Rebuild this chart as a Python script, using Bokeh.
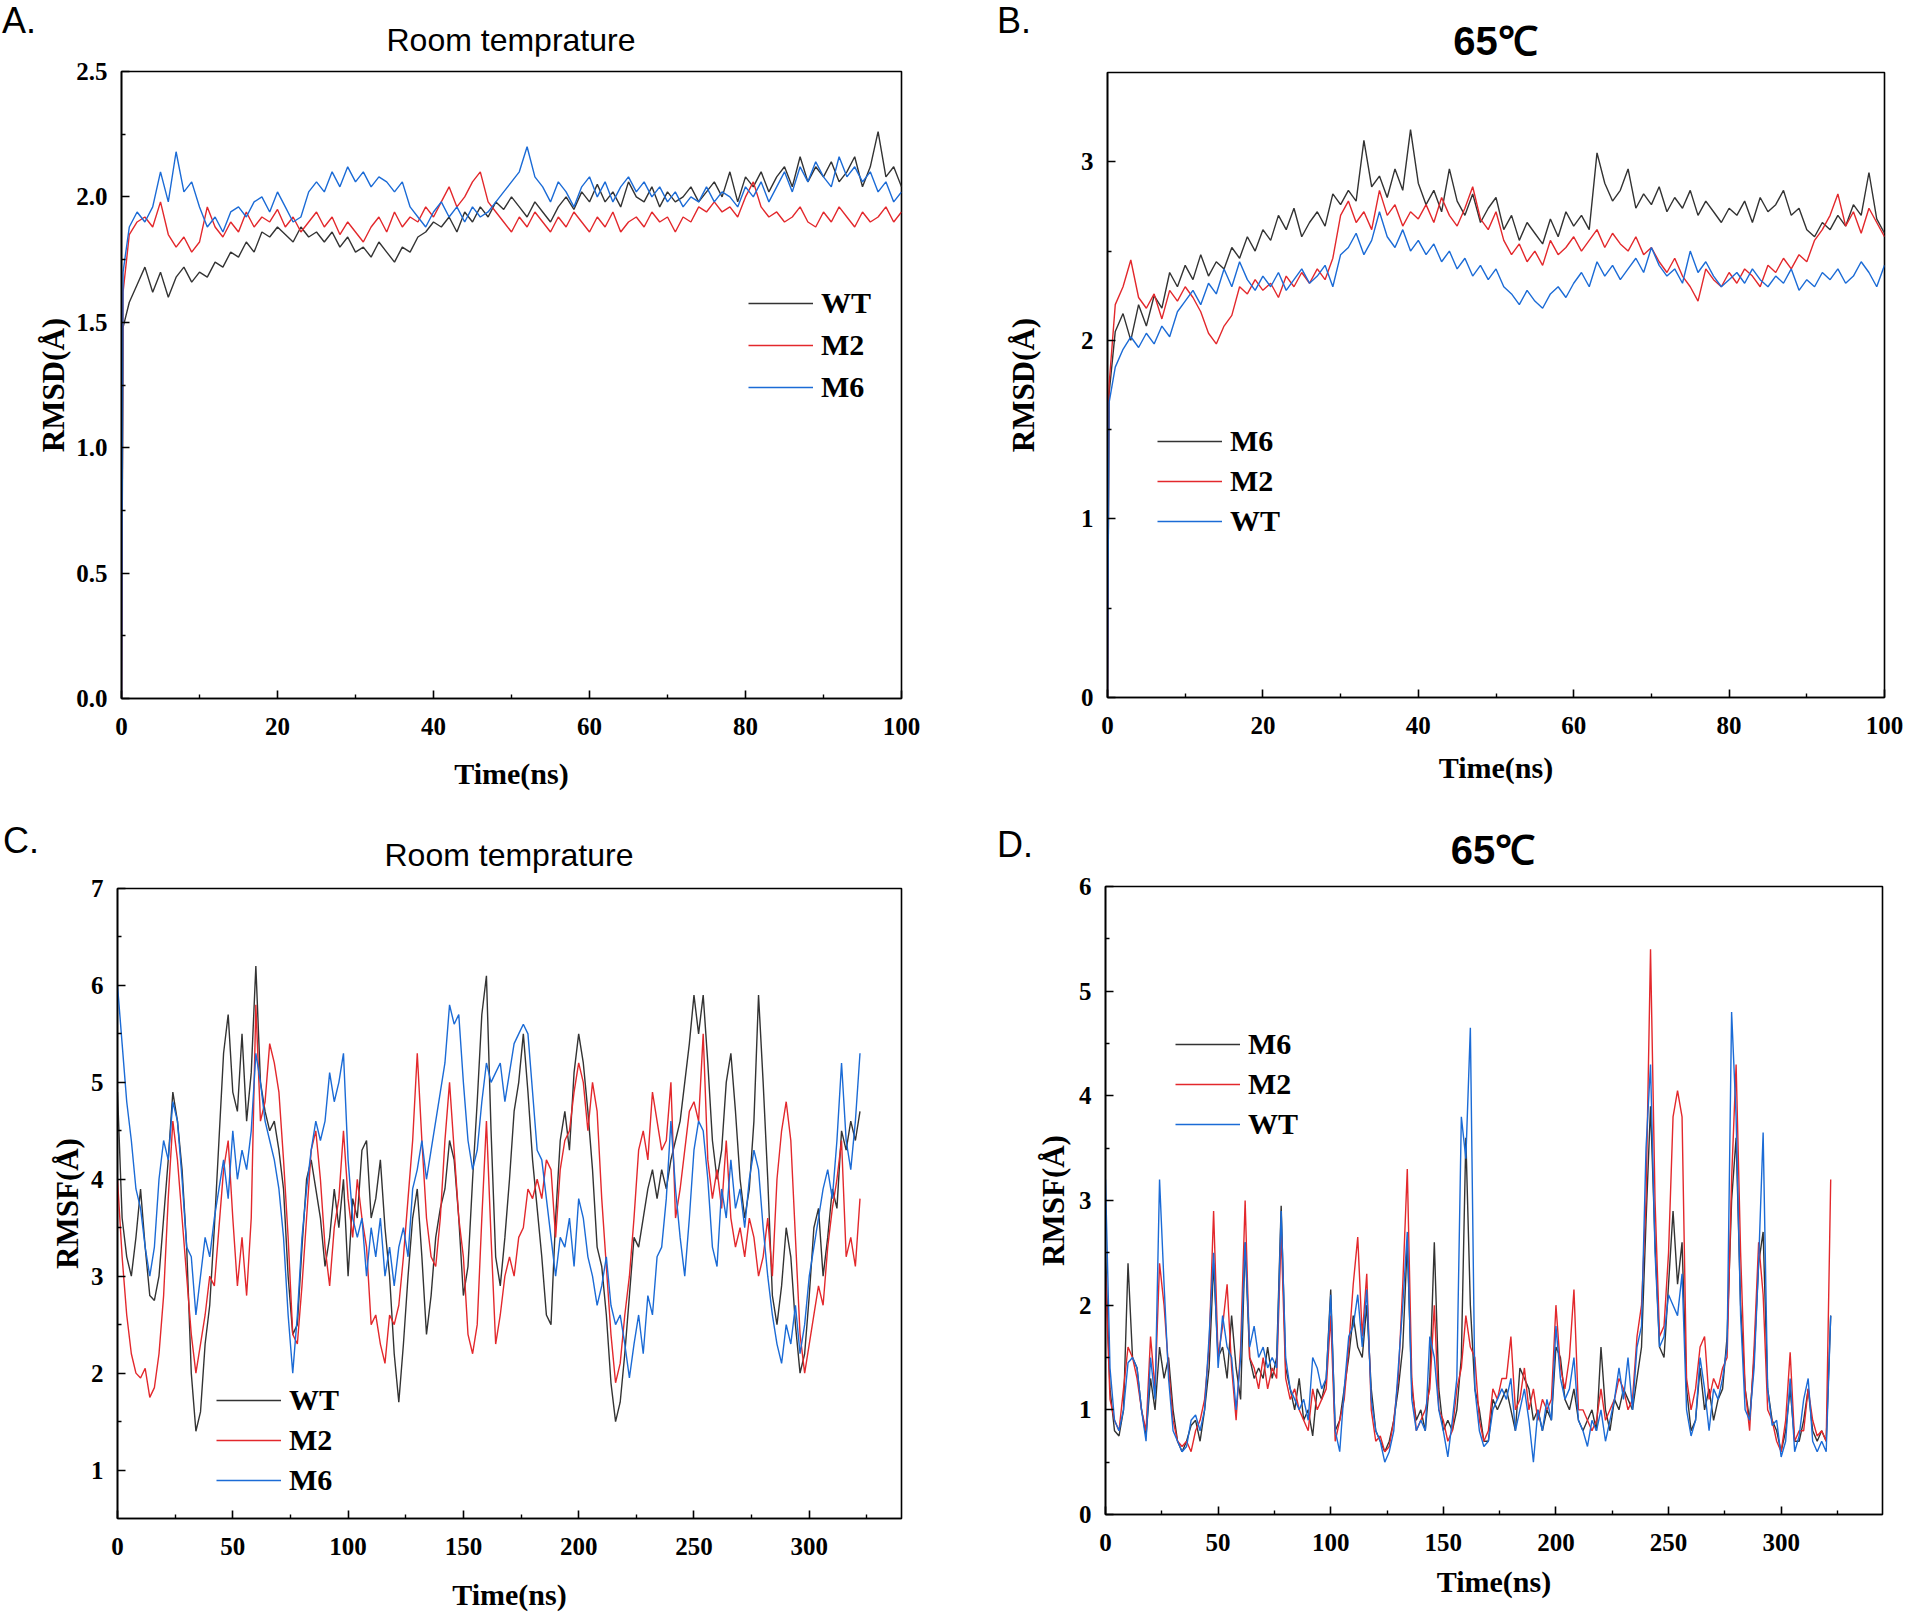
from bokeh.plotting import figure
from bokeh.models import Range1d, FixedTicker, Legend, LegendItem, Div
from bokeh.layouts import column, row
from bokeh.embed import file_html
from bokeh.resources import INLINE

# ---------------- data ----------------
# Panel A: RMSD at room temperature (time in ns: 0, 0.2, 1..100)
rmsd_rt_wt = [0.0, 1.48,
    1.58, 1.65, 1.72, 1.62, 1.70, 1.60, 1.68, 1.72, 1.66, 1.70,
    1.68, 1.74, 1.72, 1.78, 1.76, 1.82, 1.78, 1.86, 1.84, 1.88,
    1.85, 1.82, 1.88, 1.84, 1.86, 1.82, 1.86, 1.80, 1.84, 1.78,
    1.80, 1.76, 1.82, 1.78, 1.74, 1.80, 1.78, 1.84, 1.86, 1.90,
    1.88, 1.92, 1.86, 1.94, 1.90, 1.96, 1.92, 1.98, 1.95, 2.00,
    1.96, 1.92, 1.98, 1.94, 1.90, 1.96, 2.00, 1.95, 2.02, 1.98,
    2.05, 1.98, 2.02, 1.96, 2.06, 2.00, 1.98, 2.04, 1.96, 2.02,
    1.98, 2.00, 2.04, 1.98, 2.02, 2.06, 2.00, 2.10, 1.98, 2.08,
    2.04, 2.10, 2.02, 2.08, 2.12, 2.04, 2.16, 2.06, 2.12, 2.08,
    2.14, 2.06, 2.10, 2.16, 2.04, 2.12, 2.26, 2.08, 2.12, 2.04]
rmsd_rt_m2 = [0.0, 1.62,
    1.85, 1.90, 1.92, 1.88, 1.98, 1.85, 1.80, 1.84, 1.78, 1.82,
    1.96, 1.88, 1.84, 1.90, 1.86, 1.94, 1.88, 1.92, 1.90, 1.95,
    1.88, 1.92, 1.86, 1.90, 1.94, 1.88, 1.92, 1.85, 1.90, 1.86,
    1.82, 1.88, 1.92, 1.86, 1.94, 1.88, 1.92, 1.90, 1.96, 1.92,
    1.98, 2.04, 1.96, 2.00, 2.06, 2.10, 1.98, 1.94, 1.90, 1.86,
    1.92, 1.88, 1.94, 1.90, 1.86, 1.92, 1.88, 1.94, 1.90, 1.86,
    1.92, 1.88, 1.94, 1.86, 1.90, 1.92, 1.88, 1.94, 1.90, 1.92,
    1.86, 1.92, 1.90, 1.96, 1.94, 1.98, 1.94, 1.96, 1.92, 2.00,
    2.06, 1.96, 1.92, 1.94, 1.90, 1.92, 1.96, 1.90, 1.88, 1.94,
    1.90, 1.96, 1.92, 1.88, 1.94, 1.90, 1.92, 1.96, 1.90, 1.94]
rmsd_rt_m6 = [0.0, 1.70,
    1.88, 1.94, 1.90, 1.96, 2.10, 1.98, 2.18, 2.02, 2.06, 1.96,
    1.88, 1.92, 1.86, 1.94, 1.96, 1.92, 1.98, 2.00, 1.94, 2.02,
    1.96, 1.90, 1.92, 2.02, 2.06, 2.02, 2.10, 2.04, 2.12, 2.06,
    2.10, 2.04, 2.08, 2.06, 2.02, 2.06, 1.96, 1.92, 1.88, 1.94,
    1.98, 1.92, 1.96, 1.90, 1.96, 1.92, 1.94, 1.98, 2.02, 2.06,
    2.10, 2.20, 2.08, 2.04, 1.98, 2.06, 2.02, 1.96, 2.04, 2.08,
    2.00, 2.06, 1.98, 2.04, 2.08, 2.02, 2.06, 2.00, 2.04, 1.98,
    2.02, 1.96, 2.00, 1.98, 2.04, 1.98, 2.02, 2.00, 1.96, 2.04,
    2.00, 2.06, 1.98, 2.04, 2.10, 2.02, 2.12, 2.06, 2.14, 2.08,
    2.04, 2.16, 2.08, 2.12, 2.06, 2.10, 2.02, 2.06, 1.98, 2.02]

# Panel B: RMSD at 65 C
rmsd_65_m6 = [0.0, 1.70,
    2.05, 2.15, 2.00, 2.20, 2.08, 2.25, 2.18, 2.38, 2.30, 2.42,
    2.34, 2.48, 2.36, 2.44, 2.40, 2.52, 2.46, 2.58, 2.50, 2.62,
    2.56, 2.70, 2.62, 2.74, 2.58, 2.66, 2.72, 2.64, 2.82, 2.76,
    2.84, 2.78, 3.12, 2.86, 2.92, 2.80, 2.96, 2.84, 3.18, 2.88,
    2.76, 2.84, 2.72, 2.96, 2.78, 2.70, 2.82, 2.66, 2.74, 2.80,
    2.62, 2.70, 2.56, 2.66, 2.60, 2.54, 2.68, 2.58, 2.72, 2.64,
    2.70, 2.62, 3.05, 2.88, 2.78, 2.84, 2.96, 2.74, 2.82, 2.76,
    2.86, 2.72, 2.80, 2.74, 2.84, 2.70, 2.78, 2.72, 2.66, 2.74,
    2.70, 2.78, 2.66, 2.80, 2.72, 2.76, 2.84, 2.70, 2.74, 2.62,
    2.58, 2.66, 2.62, 2.70, 2.64, 2.76, 2.70, 2.94, 2.68, 2.60]
rmsd_65_m2 = [0.0, 1.75,
    2.20, 2.30, 2.45, 2.24, 2.18, 2.26, 2.12, 2.28, 2.22, 2.30,
    2.24, 2.16, 2.04, 1.98, 2.08, 2.14, 2.30, 2.26, 2.34, 2.28,
    2.32, 2.24, 2.36, 2.30, 2.38, 2.32, 2.40, 2.34, 2.46, 2.70,
    2.78, 2.66, 2.72, 2.62, 2.84, 2.70, 2.76, 2.64, 2.72, 2.68,
    2.76, 2.66, 2.80, 2.70, 2.64, 2.74, 2.86, 2.68, 2.62, 2.72,
    2.56, 2.48, 2.54, 2.44, 2.50, 2.42, 2.56, 2.48, 2.52, 2.58,
    2.50, 2.56, 2.62, 2.52, 2.60, 2.54, 2.50, 2.58, 2.48, 2.52,
    2.44, 2.38, 2.46, 2.36, 2.30, 2.22, 2.40, 2.34, 2.30, 2.38,
    2.32, 2.40, 2.36, 2.30, 2.42, 2.38, 2.46, 2.40, 2.48, 2.44,
    2.56, 2.62, 2.70, 2.82, 2.64, 2.72, 2.60, 2.74, 2.66, 2.58]
rmsd_65_wt = [0.0, 1.65,
    1.85, 1.95, 2.02, 1.96, 2.04, 1.98, 2.08, 2.02, 2.16, 2.22,
    2.28, 2.20, 2.32, 2.26, 2.40, 2.30, 2.44, 2.34, 2.28, 2.36,
    2.30, 2.38, 2.28, 2.34, 2.40, 2.32, 2.36, 2.42, 2.30, 2.48,
    2.52, 2.60, 2.48, 2.56, 2.72, 2.58, 2.52, 2.62, 2.50, 2.56,
    2.48, 2.54, 2.44, 2.50, 2.40, 2.46, 2.36, 2.42, 2.34, 2.40,
    2.30, 2.26, 2.20, 2.28, 2.22, 2.18, 2.26, 2.30, 2.24, 2.32,
    2.38, 2.30, 2.44, 2.36, 2.42, 2.34, 2.40, 2.46, 2.38, 2.52,
    2.42, 2.36, 2.40, 2.32, 2.50, 2.38, 2.44, 2.36, 2.30, 2.34,
    2.38, 2.32, 2.40, 2.34, 2.30, 2.36, 2.32, 2.40, 2.28, 2.34,
    2.30, 2.38, 2.34, 2.40, 2.32, 2.36, 2.44, 2.38, 2.30, 2.42]

# Panel C: RMSF at room temperature (every 2nd residue, 0..322)
rmsf_rt_wt = [
    4.9, 3.6, 3.2, 3.0, 3.4, 3.9, 3.3, 2.8, 2.75, 3.0,
    3.6, 4.2, 4.9, 4.6, 4.1, 3.3, 2.0, 1.4, 1.6, 2.3,
    2.7, 3.5, 4.4, 5.3, 5.7, 4.9, 4.7, 5.5, 4.6, 5.1,
    6.2, 5.0, 4.7, 4.5, 4.6, 4.3, 3.9, 3.0, 2.4, 2.5,
    3.3, 4.0, 4.2, 3.9, 3.6, 3.1, 3.4, 3.9, 3.5, 4.0,
    3.0, 3.8, 3.6, 4.3, 4.4, 3.6, 3.8, 4.2, 3.5, 3.0,
    2.2, 1.7, 2.3, 3.0, 3.6, 3.9, 3.2, 2.4, 2.8, 3.4,
    3.7, 3.9, 4.4, 4.2, 3.6, 2.8, 3.1, 4.0, 4.8, 5.7,
    6.1, 4.5, 3.2, 2.9, 3.4, 4.0, 4.7, 5.0, 5.5, 4.9,
    4.2, 3.7, 3.2, 2.6, 2.5, 3.6, 4.4, 4.7, 4.3, 5.1,
    5.5, 5.2, 4.7, 4.1, 3.3, 3.1, 2.6, 1.9, 1.5, 1.7,
    2.2, 2.8, 3.4, 3.3, 3.6, 3.9, 4.1, 3.8, 4.1, 3.9,
    4.2, 4.4, 4.6, 5.0, 5.4, 5.9, 5.5, 5.9, 5.2, 4.4,
    4.0, 4.3, 5.0, 5.3, 4.7, 4.0, 3.6, 3.9, 4.6, 5.9,
    5.0, 4.0, 2.8, 2.5, 2.9, 3.5, 3.2, 2.5, 2.0, 2.2,
    2.8, 3.5, 3.7, 3.0, 3.4, 3.9, 3.7, 4.5, 4.3, 4.6,
    4.4, 4.7]
rmsf_rt_m2 = [
    4.0, 3.2, 2.6, 2.2, 2.0, 1.95, 2.05, 1.75, 1.85, 2.2,
    2.8, 3.8, 4.6, 4.2, 3.6, 3.0, 2.4, 2.0, 2.3, 2.6,
    3.0, 2.9, 3.5, 4.1, 4.4, 3.6, 2.9, 3.4, 2.8, 3.6,
    5.8, 4.6, 4.8, 5.4, 5.2, 4.9, 4.2, 3.4, 2.4, 2.3,
    2.9, 3.6, 4.3, 4.5, 4.0, 3.3, 2.9, 3.5, 3.8, 4.5,
    3.8, 3.4, 4.0, 3.6, 3.3, 2.5, 2.6, 2.3, 2.1, 2.6,
    2.5, 2.7, 3.2, 3.8, 4.4, 5.3, 4.4, 3.6, 3.2, 3.1,
    3.6, 4.4, 5.0, 4.3, 3.6, 3.2, 2.4, 2.2, 2.5, 3.6,
    4.6, 3.4, 2.3, 2.6, 3.0, 3.2, 3.0, 3.4, 3.5, 3.9,
    3.8, 4.0, 3.8, 4.2, 4.1, 3.4, 4.1, 4.4, 4.5, 4.9,
    5.2, 5.0, 4.5, 5.0, 4.7, 3.8, 3.1, 2.4, 1.9, 2.1,
    2.6, 3.0, 3.6, 4.3, 4.5, 4.2, 4.9, 4.6, 4.3, 4.4,
    5.0, 3.6, 3.9, 4.3, 4.7, 4.8, 4.6, 5.5, 4.2, 3.8,
    4.1, 3.7, 4.4, 3.6, 3.3, 3.5, 3.2, 3.6, 3.4, 3.0,
    3.2, 3.6, 3.0, 4.0, 4.5, 4.8, 4.4, 3.4, 2.4, 2.0,
    2.3, 2.6, 2.9, 2.7, 3.3, 3.7, 4.0, 4.4, 3.2, 3.4,
    3.1, 3.8]
rmsf_rt_m6 = [
    6.0, 5.4, 4.8, 4.4, 3.9, 3.7, 3.3, 3.0, 3.3, 4.0,
    4.4, 4.2, 4.8, 4.6, 4.0, 3.3, 3.2, 2.6, 3.0, 3.4,
    3.2, 3.6, 3.9, 4.2, 3.8, 4.5, 4.0, 4.3, 4.1, 4.5,
    5.3, 5.0, 4.6, 4.4, 4.2, 3.9, 3.4, 2.6, 2.0, 2.6,
    3.4, 3.9, 4.3, 4.6, 4.4, 4.6, 5.1, 4.8, 5.0, 5.3,
    4.2, 3.6, 3.4, 3.6, 3.0, 3.5, 3.2, 3.6, 3.0, 3.3,
    2.9, 3.3, 3.5, 3.2, 3.9, 4.1, 4.4, 4.0, 4.3, 4.6,
    4.9, 5.2, 5.8, 5.6, 5.7, 5.0, 4.4, 4.1, 4.3, 4.8,
    5.2, 5.0, 5.1, 5.2, 4.8, 5.1, 5.4, 5.5, 5.6, 5.5,
    4.9, 4.3, 4.2, 3.8, 3.4, 3.0, 3.4, 3.3, 3.6, 3.1,
    3.8, 3.6, 3.2, 3.0, 2.7, 2.9, 3.2, 2.7, 2.5, 2.6,
    2.3, 1.95, 2.3, 2.6, 2.2, 2.8, 2.6, 3.2, 3.3, 3.8,
    4.6, 3.9, 3.4, 3.0, 3.6, 4.3, 4.6, 4.5, 4.0, 3.3,
    3.1, 3.9, 3.6, 4.2, 3.7, 3.9, 3.5, 4.0, 4.3, 4.1,
    3.5, 3.0, 2.6, 2.3, 2.1, 2.5, 2.3, 2.7, 2.2, 2.5,
    3.0, 3.3, 3.6, 3.9, 4.1, 3.8, 4.4, 5.2, 4.4, 4.1,
    4.6, 5.3]

# Panel D: RMSF at 65 C (every 2nd residue, 0..322)
rmsf_65_m6 = [
    2.5, 1.2, 0.8, 0.75, 1.0, 2.4, 1.5, 1.4, 1.0, 0.75,
    1.3, 1.0, 1.6, 1.3, 1.5, 1.0, 0.7, 0.6, 0.7, 0.85,
    0.9, 0.7, 1.0, 1.4, 2.4, 1.5, 1.6, 1.3, 1.9, 1.4,
    1.1, 2.6, 1.5, 1.3, 1.4, 1.3, 1.6, 1.3, 1.5, 2.95,
    1.4, 1.2, 1.0, 1.3, 0.9, 1.0, 0.75, 1.2, 1.1, 1.3,
    2.15, 0.8, 0.9, 1.2, 1.5, 1.9, 1.6, 1.5, 2.0, 1.2,
    0.8, 0.7, 0.6, 0.7, 0.9, 1.2, 1.6, 2.6, 1.2, 0.9,
    1.0, 0.8, 1.3, 2.6, 1.2, 0.8, 0.9, 0.8, 1.0, 1.5,
    3.6, 2.0, 1.2, 1.0, 0.7, 0.7, 1.1, 1.0, 1.1, 1.2,
    1.0, 0.8, 1.4, 1.3, 1.2, 0.9, 1.0, 0.8, 1.0, 0.9,
    1.6, 1.5, 1.1, 1.0, 1.2, 0.9, 0.8, 0.9, 1.0, 0.8,
    1.6, 1.0, 0.8, 1.1, 1.0, 1.2, 1.1, 1.0, 1.3, 1.6,
    2.8, 3.9, 2.6, 1.6, 1.5, 2.2, 2.9, 2.2, 2.6, 1.2,
    0.8, 0.9, 1.4, 1.0, 1.2, 0.9, 1.1, 1.2, 1.7, 3.0,
    3.6, 2.0, 1.2, 0.9, 1.5, 2.4, 2.7, 1.2, 0.9, 0.8,
    0.6, 0.8, 1.2, 0.7, 0.7, 0.9, 1.2, 0.8, 0.7, 0.8,
    0.7, 1.9]
rmsf_65_m2 = [
    2.3, 1.1, 0.9, 0.8, 1.2, 1.6, 1.5, 1.3, 1.0, 0.8,
    1.7, 1.2, 2.4, 2.0, 1.4, 0.9, 0.7, 0.65, 0.7, 0.6,
    0.8, 0.9, 1.1, 1.6, 2.9, 1.5, 1.8, 2.2, 1.4, 0.9,
    1.6, 3.0, 1.5, 1.4, 1.2, 1.5, 1.2, 1.4, 1.3, 2.7,
    1.3, 1.1, 1.2, 1.0, 0.9, 0.8, 1.2, 1.0, 1.1, 1.2,
    1.9, 0.7, 0.9, 1.1, 1.6, 2.2, 2.65, 1.7, 2.3, 1.0,
    0.7, 0.75, 0.6, 0.65, 0.9, 1.3, 2.2, 3.3, 1.3, 0.8,
    0.9, 1.0, 1.2, 2.0, 1.0, 0.9, 0.7, 0.8, 1.2, 1.4,
    1.9, 1.6, 1.5, 0.9, 0.7, 0.8, 1.2, 1.1, 1.3, 1.3,
    1.7, 1.0, 1.1, 1.4, 1.0, 1.2, 0.9, 1.1, 1.0, 1.1,
    2.0, 1.4, 1.2, 1.5, 2.15, 1.0, 1.0, 0.9, 0.8, 0.9,
    1.2, 0.9, 1.0, 1.1, 1.3, 1.2, 1.0, 1.1, 1.7, 2.0,
    3.0, 5.4, 3.0, 1.7, 1.8, 2.5, 3.8, 4.05, 3.8, 1.3,
    1.0, 1.2, 1.6, 1.7, 1.1, 1.3, 1.2, 1.4, 1.5, 3.2,
    4.3, 2.5, 1.2, 0.8, 1.6, 2.6, 2.1, 1.0, 0.9, 0.7,
    0.6, 0.9, 1.55, 0.7, 0.8, 0.8, 1.2, 0.9, 0.75, 0.8,
    0.7, 3.2]
rmsf_65_wt = [
    3.2, 1.4, 0.9, 0.8, 1.0, 1.45, 1.5, 1.4, 1.0, 0.7,
    1.5, 1.1, 3.2, 2.2, 1.3, 0.8, 0.7, 0.6, 0.65, 0.9,
    0.95, 0.8, 1.0, 1.7, 2.5, 1.4, 1.9, 1.6, 1.5, 1.0,
    1.5, 2.6, 1.6, 1.8, 1.5, 1.6, 1.4, 1.5, 1.4, 2.9,
    1.5, 1.2, 1.1, 1.0, 1.1, 0.9, 1.5, 1.4, 1.2, 1.3,
    2.1, 0.8, 0.6, 1.2, 1.7, 1.8, 2.1, 1.6, 2.15, 1.1,
    0.8, 0.7, 0.5, 0.6, 0.8, 1.4, 2.0, 2.7, 1.1, 0.8,
    0.9, 0.8, 1.7, 1.5, 1.0, 0.8, 0.55, 0.9, 1.3, 3.8,
    3.4, 4.65, 1.2, 0.8, 0.65, 0.7, 1.0, 1.1, 1.2, 1.1,
    1.3, 0.8, 1.0, 1.2, 0.9, 0.5, 1.0, 0.8, 1.1, 0.9,
    1.8, 1.3, 1.1, 1.2, 1.5, 0.9, 0.8, 0.65, 0.9, 0.8,
    1.0, 0.7, 0.9, 1.1, 1.4, 1.1, 1.5, 1.0, 1.6, 1.8,
    3.5, 4.3, 2.5, 1.6, 1.7, 2.1, 2.0, 1.9, 2.3, 1.0,
    0.75, 0.9, 1.5, 1.2, 0.8, 1.2, 1.1, 1.3, 1.6, 4.8,
    3.8, 1.9, 1.0, 0.9, 1.4, 2.4, 3.65, 1.2, 0.85, 0.9,
    0.55, 0.7, 1.3, 0.6, 0.75, 1.1, 1.3, 0.7, 0.6, 0.7,
    0.6, 1.9]

# axis ticks
rmsd_rt_yticks = [0.0, 0.5, 1.0, 1.5, 2.0, 2.5]
rmsd_65_yticks = [0, 1, 2, 3]
rmsd_xticks = [0, 20, 40, 60, 80, 100]
rmsf_rt_yticks = [1, 2, 3, 4, 5, 6, 7]
rmsf_65_yticks = [0, 1, 2, 3, 4, 5, 6]
rmsf_xticks = [0, 50, 100, 150, 200, 250, 300]

BLACK = "#333333"
RED = "#e3282c"
BLUE = "#1b6bd6"
W = 953


def rmsd_time(vals):
    return [0.0, 0.2] + [float(i) for i in range(1, len(vals) - 1)]


def residue_index(vals):
    return [2 * i for i in range(len(vals))]


def header(h, letter, lx, ltop, title, tcx, ttop, tsize, tweight):
    base = "position:absolute;font-family:'Liberation Sans',Arial,sans-serif;line-height:1;color:#000;white-space:nowrap;"
    html = (f'<div style="position:relative;width:{W}px;height:{h}px;overflow:visible;">'
            f'<span style="{base}left:{lx}px;top:{ltop}px;font-size:36px;">{letter}</span>'
            f'<span style="{base}left:{tcx}px;top:{ttop}px;transform:translateX(-50%);'
            f'font-size:{tsize}px;font-weight:{tweight};">{title}</span></div>')
    return Div(text=html, width=W, height=h, margin=(0, 0, 0, 0))


def style_axes(p, xticks, xminor, yticks, yminor, ylabels, ylabel, ylab_standoff, xlab_standoff):
    p.xgrid.visible = False
    p.ygrid.visible = False
    p.outline_line_color = "black"
    p.outline_line_width = 1.6
    p.xaxis.ticker = FixedTicker(ticks=xticks, minor_ticks=xminor)
    p.yaxis.ticker = FixedTicker(ticks=yticks, minor_ticks=yminor)
    p.yaxis.major_label_overrides = {t: s for t, s in zip(yticks, ylabels)}
    p.xaxis.axis_label = "Time(ns)"
    p.yaxis.axis_label = ylabel
    for ax in (p.xaxis[0], p.yaxis[0]):
        ax.axis_line_width = 1.6
        ax.major_tick_in = 8
        ax.major_tick_out = 0
        ax.minor_tick_in = 4
        ax.minor_tick_out = 0
        ax.major_tick_line_width = 1.6
        ax.minor_tick_line_width = 1.4
        ax.major_label_text_font = "Liberation Serif"
        ax.major_label_text_font_style = "bold"
        ax.major_label_text_font_size = "25px"
        ax.major_label_text_color = "black"
        ax.axis_label_text_font = "Liberation Serif"
        ax.axis_label_text_font_style = "bold"
        ax.axis_label_text_color = "black"
    p.xaxis.major_label_standoff = 19
    p.yaxis.major_label_standoff = 14
    p.xaxis.axis_label_text_font_size = "30px"
    p.yaxis.axis_label_text_font_size = "31px"
    p.xaxis.axis_label_standoff = xlab_standoff
    p.yaxis.axis_label_standoff = ylab_standoff


def make_panel(xs, series, names, colors, xr, yr, height, borders, axes_args,
               legend_xy, row_h):
    bl, br, bt, bb = borders
    p = figure(width=W, height=height, x_range=Range1d(*xr), y_range=Range1d(*yr),
               output_backend="svg", toolbar_location=None,
               min_border_left=bl, min_border_right=br,
               min_border_top=bt, min_border_bottom=bb, margin=(0, 0, 0, 0))
    p.background_fill_color = "white"
    p.border_fill_color = "white"
    style_axes(p, *axes_args)
    items = []
    for x, y, n, c in zip(xs, series, names, colors):
        r = p.line(x, y, line_color=c, line_width=1.4)
        items.append(LegendItem(label=n, renderers=[r]))
    leg = Legend(items=items, location=legend_xy, padding=0, margin=0, spacing=0,
                 glyph_width=65, glyph_height=row_h, label_height=row_h,
                 label_standoff=8, label_text_font="Liberation Serif",
                 label_text_font_style="bold", label_text_font_size="30px",
                 label_text_color="black",
                 border_line_alpha=0, background_fill_alpha=0)
    p.add_layout(leg)
    return p


pA = make_panel(
    [rmsd_time(rmsd_rt_wt), rmsd_time(rmsd_rt_m2), rmsd_time(rmsd_rt_m6)],
    [rmsd_rt_wt, rmsd_rt_m2, rmsd_rt_m6], ["WT", "M2", "M6"], [BLACK, RED, BLUE],
    (0, 100), (0, 2.5), 751, (121, 52, 15, 109),
    (rmsd_xticks, [10, 30, 50, 70, 90], rmsd_rt_yticks, [0.25, 0.75, 1.25, 1.75, 2.25],
     ["0.0", "0.5", "1.0", "1.5", "2.0", "2.5"], "RMSD(Å)", 2, 19),
    (627, 290), 42)

pB = make_panel(
    [rmsd_time(rmsd_65_m6), rmsd_time(rmsd_65_m2), rmsd_time(rmsd_65_wt)],
    [rmsd_65_m6, rmsd_65_m2, rmsd_65_wt], ["M6", "M2", "WT"], [BLACK, RED, BLUE],
    (0, 100), (0, 3.5), 751, (154, 22, 16, 110),
    (rmsd_xticks, [10, 30, 50, 70, 90], rmsd_65_yticks, [0.5, 1.5, 2.5],
     ["0", "1", "2", "3"], "RMSD(Å)", 37, 14),
    (50, 156), 40)

pC = make_panel(
    [residue_index(rmsf_rt_wt), residue_index(rmsf_rt_m2), residue_index(rmsf_rt_m6)],
    [rmsf_rt_wt, rmsf_rt_m2, rmsf_rt_m6], ["WT", "M2", "M6"], [BLACK, RED, BLUE],
    (0, 340), (0.5, 7), 740, (117, 52, 14, 96),
    (rmsf_xticks, [25, 75, 125, 175, 225, 275, 325], rmsf_rt_yticks,
     [1.5, 2.5, 3.5, 4.5, 5.5, 6.5], ["1", "2", "3", "4", "5", "6", "7"], "RMSF(Å)", 3, 20),
    (99, 18), 40)

pD = make_panel(
    [residue_index(rmsf_65_m6), residue_index(rmsf_65_m2), residue_index(rmsf_65_wt)],
    [rmsf_65_m6, rmsf_65_m2, rmsf_65_wt], ["M6", "M2", "WT"], [BLACK, RED, BLUE],
    (0, 345), (0, 6), 740, (152, 24, 12, 100),
    (rmsf_xticks, [25, 75, 125, 175, 225, 275, 325], rmsf_65_yticks,
     [0.5, 1.5, 2.5, 3.5, 4.5, 5.5], ["0", "1", "2", "3", "4", "5", "6"], "RMSF(Å)", 5, 11),
    (70, 370), 40)

hA = header(56, "A.", 2, 2.5, "Room temprature", 511, 23.9, 32, "normal")
hB = header(56, "B.", 44, 2.5, "65℃", 542.5, 21.1, 40, "bold")
hC = header(67, "C.", 3, 16, "Room temprature", 509, 31.9, 32, "normal")
hD = header(67, "D.", 44, 19.5, "65℃", 540, 23, 40, "bold")

layout = column(row(column(hA, pA), column(hB, pB)),
                row(column(hC, pC), column(hD, pD)))
open("out.html", "w").write(file_html(layout, INLINE))
